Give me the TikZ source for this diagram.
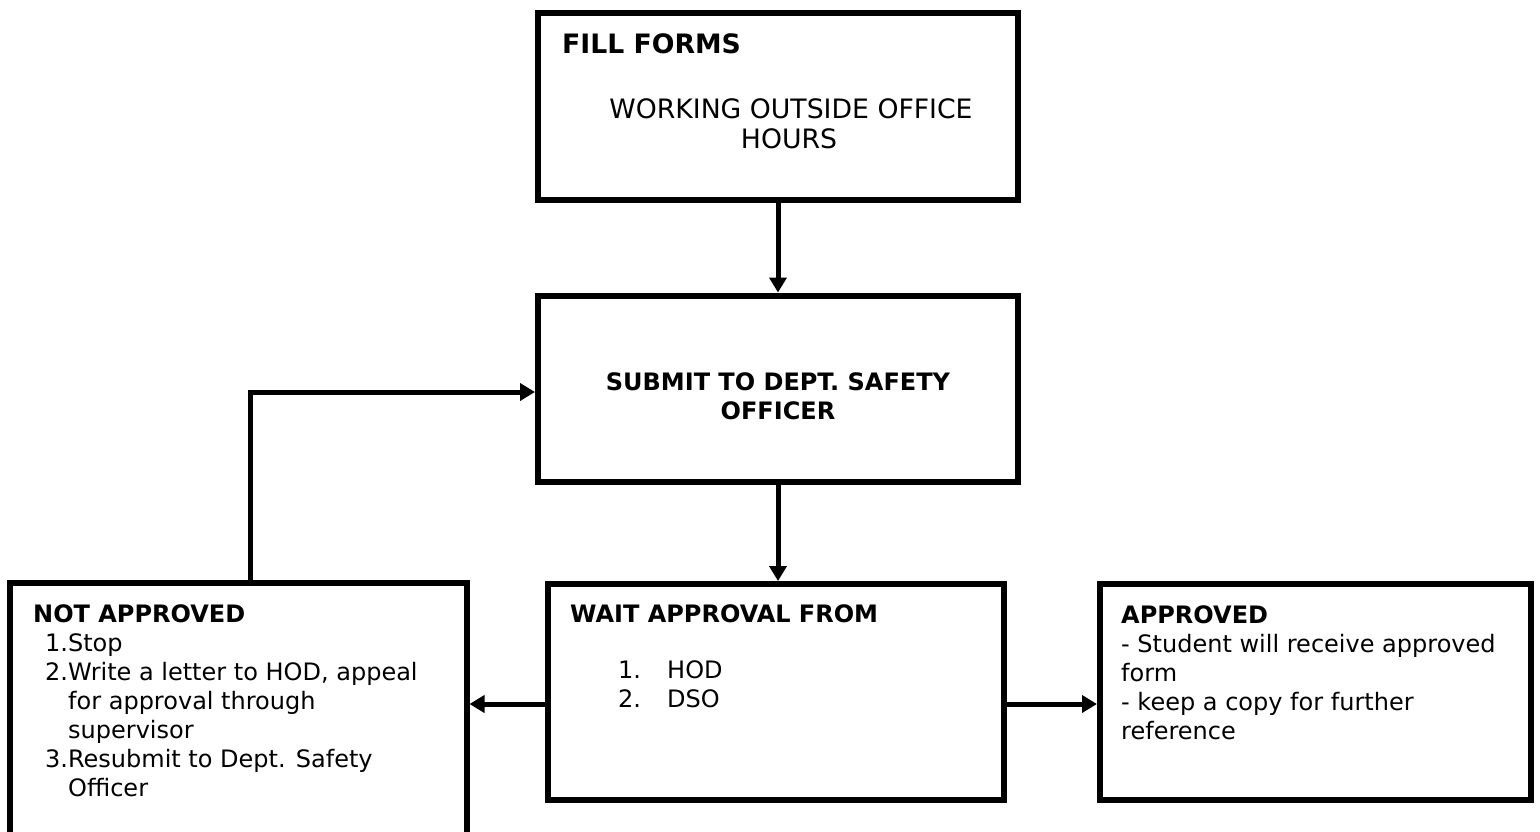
\documentclass[tikz,border=0pt]{standalone}
\usepackage{fontspec}
\setmainfont{DejaVu Sans}
\usetikzlibrary{arrows.meta}
\tikzset{
  box/.style={draw=black, line width=6pt, fill=white, inner sep=0pt},
  conn/.style={line width=5pt, -{Triangle[length=15pt,width=17pt]}},
  txt/.style={inner sep=0pt, anchor=base west, font=\fontsize{24pt}{29pt}\selectfont},
  ctxt/.style={inner sep=0pt, anchor=base, font=\fontsize{24pt}{29pt}\selectfont},
  bigtxt/.style={font=\fontsize{26.7pt}{30pt}\selectfont},
}
\newcommand{\lines}[1]{\parbox[t]{480pt}{\fontsize{24pt}{29pt}\selectfont\raggedright #1}}
\begin{document}
\begin{tikzpicture}[x=1pt,y=-1pt]
\useasboundingbox (0,0) rectangle (1540,831);
% boxes
\node[box, minimum width=480pt, minimum height=187pt] (fill) at (778,106.5) {};
\node[box, minimum width=480pt, minimum height=186.5pt] (sub) at (778,388.75) {};
\node[box, minimum width=456pt, minimum height=216pt] (wait) at (775.5,692) {};
\node[box, minimum width=431pt, minimum height=216pt] (appr) at (1315.5,692) {};
\node[box, minimum width=456.5pt, minimum height=300pt] (na) at (238.25,733) {};
% texts
\node[txt, bigtxt] (t1) at (562,53) {\bfseries FILL FORMS};
\node[ctxt, bigtxt] (t2) at (791,118) {WORKING OUTSIDE OFFICE};
\node[ctxt, bigtxt] (t3) at (789,148) {HOURS};
\node[ctxt] (t4) at (778,390) {\bfseries SUBMIT TO DEPT. SAFETY};
\node[ctxt] (t5) at (778,419) {\bfseries OFFICER};
\node[txt] (t6) at (570,622) {\bfseries WAIT APPROVAL FROM};
\node[txt] (t7) at (618,678) {1.};
\node[txt] (t8) at (667,678) {HOD};
\node[txt] (t9) at (618,707) {2.};
\node[txt] (t10) at (667,707) {DSO};
\node[txt] (t11) at (1121,623) {\lines{\textbf{APPROVED}\\
- Student will receive approved\\
form\\
- keep a copy for further\\
reference}};
\node[txt] (t12) at (33,622) {\lines{\textbf{NOT APPROVED}\\
\hspace*{12pt}1.Stop\\
\hspace*{12pt}2.Write a letter to HOD, appeal\\
\hspace*{35pt}for approval through\\
\hspace*{35pt}supervisor\\
\hspace*{12pt}3.Resubmit to Dept. Safety\\
\hspace*{35pt}Officer}};
% connectors
\draw[conn] (fill.south) -- (sub.north);
\draw[conn] (sub.south) -- (sub.south |- wait.north);
\draw[conn] (wait.west |- 0,704) -- (na.east |- 0,704);
\draw[conn] (wait.east |- 0,704) -- (appr.west |- 0,704);
\coordinate (fb) at (250,392);
\draw[conn] (fb |- na.north) -- (fb) -- (fb -| sub.west);
\end{tikzpicture}
\end{document}
